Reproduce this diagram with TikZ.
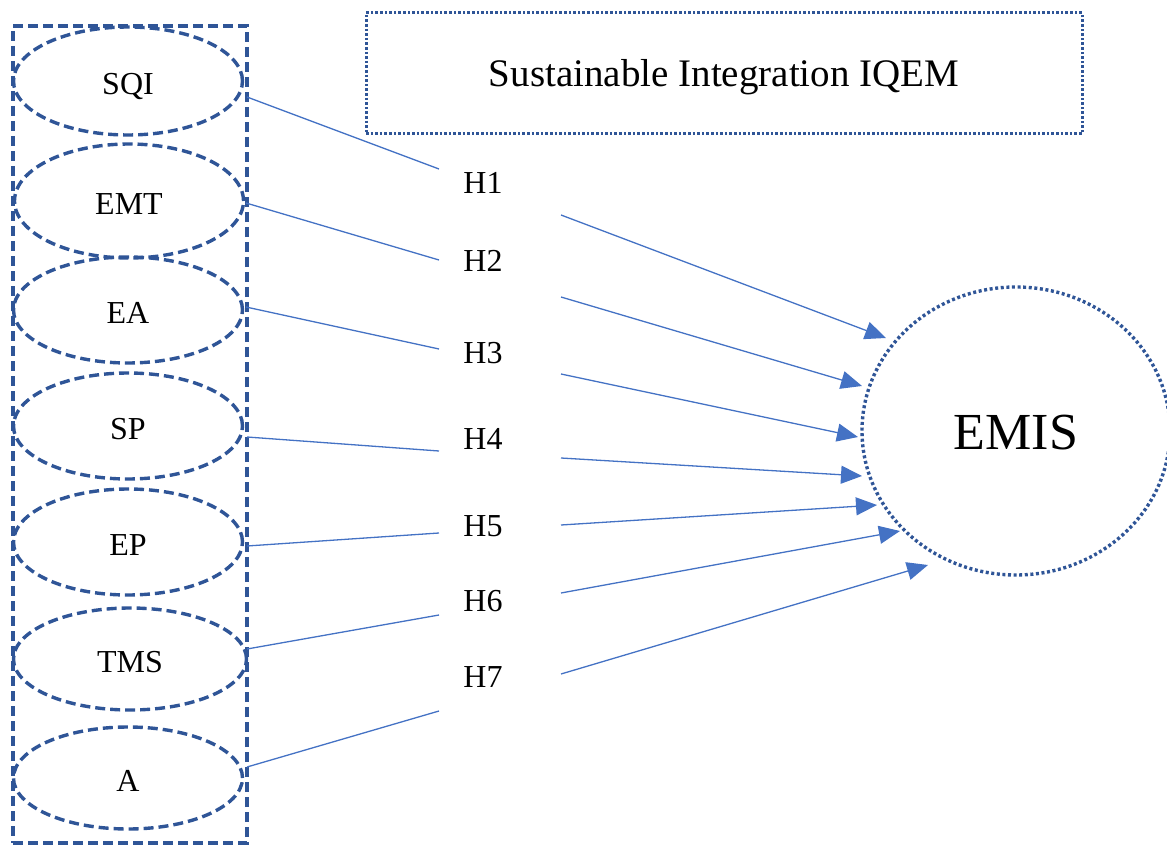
\documentclass[tikz,border=0pt]{standalone}
\usepackage{fontspec}
\setmainfont{Liberation Serif}
\usetikzlibrary{shapes.geometric,arrows.meta}
\definecolor{dkblue}{RGB}{47,85,151}
\definecolor{lnblue}{RGB}{68,114,196}
\tikzset{
  varell/.style={ellipse, draw=dkblue, line width=3.4pt, dash pattern=on 10pt off 5pt,
    minimum width=229pt, minimum height=106pt, inner sep=0pt,
    font=\fontsize{32}{38}\selectfont, text height=27pt, text depth=0pt},
  groupbox/.style={rectangle, draw=dkblue, line width=3.4pt, dash pattern=on 10pt off 5pt,
    minimum width=234pt, minimum height=817pt, inner sep=0pt},
  titlebox/.style={rectangle, draw=dkblue, line width=3pt, dash pattern=on 2.6pt off 2pt,
    minimum width=716pt, minimum height=121pt, inner sep=0pt,
    font=\fontsize{39}{46}\selectfont, text height=26pt, text depth=0pt},
  outcome/.style={ellipse, draw=dkblue, line width=3.4pt, dash pattern=on 3pt off 2.6pt,
    minimum width=308pt, minimum height=288pt, inner sep=0pt,
    font=\fontsize{52}{60}\selectfont, text height=37pt, text depth=0pt},
  hyp/.style={inner sep=0pt, font=\fontsize{32}{38}\selectfont, text height=21.5pt, text depth=0pt},
  link/.style={draw=lnblue, line width=1.3pt},
  hpath/.style={draw=lnblue, line width=1.3pt, -{Triangle[length=21pt,width=18pt]}}
}
\begin{document}
\begin{tikzpicture}[x=1pt,y=-1pt]
\useasboundingbox (0,0) rectangle (1167,845);
% group box
\node[groupbox] (group) at (130,434.5) {};
% constructs
\node[varell, minimum height=108pt] (SQI) at (128,81) {SQI};
\node[varell, minimum height=114pt] (EMT) at (129,201) {EMT};
\node[varell] (EA) at (128,310) {EA};
\node[varell] (SP) at (128,426) {SP};
\node[varell] (EP) at (128,542) {EP};
\node[varell, minimum height=102pt, minimum width=233pt] (TMS) at (130,659) {TMS};
\node[varell, minimum height=102pt] (A) at (128,778) {A};
% title
\node[titlebox] (title) at (724,73.5) {Sustainable Integration IQEM};
% outcome
\node[outcome] (EMIS) at (1016,431) {EMIS};
% hypotheses
\node[hyp] (H1) at (483,183) {H1};
\node[hyp] (H2) at (483,261) {H2};
\node[hyp] (H3) at (483,353) {H3};
\node[hyp] (H4) at (483,439) {H4};
\node[hyp] (H5) at (483,526) {H5};
\node[hyp] (H6) at (483,601) {H6};
\node[hyp] (H7) at (483,677) {H7};
% construct -> hypothesis
\draw[link] ([shift={(119,16)}]SQI.center) -- ([shift={(-44,-14)}]H1.center);
\draw[link] ([shift={(117,2)}]EMT.center) -- ([shift={(-44,-1)}]H2.center);
\draw[link] ([shift={(118,-3)}]EA.center) -- ([shift={(-44,-4)}]H3.center);
\draw[link] ([shift={(119,11)}]SP.center) -- ([shift={(-44,12)}]H4.center);
\draw[link] ([shift={(119,4)}]EP.center) -- ([shift={(-44,7)}]H5.center);
\draw[link] ([shift={(117,-10)}]TMS.center) -- ([shift={(-44,14)}]H6.center);
\draw[link] ([shift={(119,-11)}]A.center) -- ([shift={(-44,34)}]H7.center);
% hypothesis -> EMIS
\draw[hpath] ([shift={(78,32)}]H1.center) -- ([shift={(-130,-93)}]EMIS.center);
\draw[hpath] ([shift={(78,36)}]H2.center) -- ([shift={(-154,-45)}]EMIS.center);
\draw[hpath] ([shift={(78,21)}]H3.center) -- ([shift={(-158,6)}]EMIS.center);
\draw[hpath] ([shift={(78,19)}]H4.center) -- ([shift={(-154,45)}]EMIS.center);
\draw[hpath] ([shift={(78,-1)}]H5.center) -- ([shift={(-139,74)}]EMIS.center);
\draw[hpath] ([shift={(78,-8)}]H6.center) -- ([shift={(-116,100)}]EMIS.center);
\draw[hpath] ([shift={(78,-3)}]H7.center) -- ([shift={(-88,134)}]EMIS.center);
\end{tikzpicture}
\end{document}
